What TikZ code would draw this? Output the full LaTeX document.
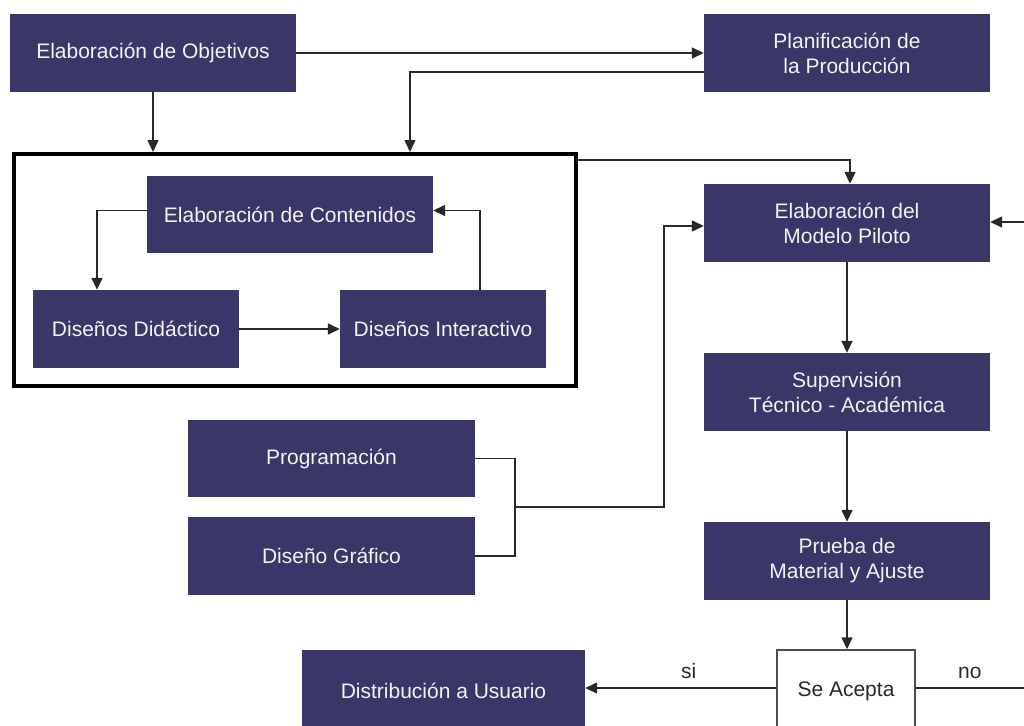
\documentclass[tikz,border=0pt]{standalone}
\usepackage{fontspec}
\setmainfont{Liberation Sans}
\usetikzlibrary{arrows.meta}
\definecolor{navy}{RGB}{59,54,104}
\definecolor{linegray}{RGB}{40,40,40}
\begin{document}
\begin{tikzpicture}[x=1pt,y=-1pt,
  box/.style={fill=navy,text=white!95!black,inner sep=0pt,align=center,
              font=\fontsize{21}{25}\selectfont},
  wide/.style={box,minimum width=286pt,minimum height=78pt},
  narrow/.style={box,minimum width=206pt,minimum height=78pt},
  conn/.style={line width=1.5pt,draw=linegray},
  arr/.style={conn,-{Triangle[length=12pt,width=11pt]}},
  lbl/.style={font=\fontsize{21}{25}\selectfont,text=linegray}
]
\clip (0,0) rectangle (1024,725);
\fill[white] (0,0) rectangle (1024,725);

% nodes
\node[wide] (obj) at (153,53) {Elaboración de Objetivos};
\node[wide] (plan) at (847,53) {Planificación de\\la Producción};
\node[draw=black,line width=4pt,minimum width=562pt,minimum height=232pt,inner sep=0pt] (frame) at (295,270) {};
\node[wide,minimum height=77pt] (cont) at (290,214.5) {Elaboración de Contenidos};
\node[narrow] (did) at (136,329) {Diseños Didáctico};
\node[narrow] (inter) at (443,329) {Diseños Interactivo};
\node[wide] (modelo) at (847,223) {Elaboración del\\Modelo Piloto};
\node[wide] (sup) at (847,392) {Supervisión\\Técnico - Académica};
\node[wide] (prueba) at (847,561) {Prueba de\\Material y Ajuste};
\node[wide,minimum width=287pt,minimum height=77pt] (prog) at (331.5,458.5) {Programación};
\node[wide,minimum width=287pt] (dg) at (331.5,556) {Diseño Gráfico};
\node[box,minimum width=283pt,minimum height=82pt] (dist) at (443.5,691) {Distribución a Usuario};
\node[draw=gray!60!black,line width=1.5pt,fill=white,minimum width=138pt,minimum height=82pt,
      inner sep=0pt,font=\fontsize{21}{25}\selectfont,text=linegray] (se) at (846,691) {Se Acepta};

\coordinate (br) at (515,507);
\coordinate (noend) at (1024,688);
\coordinate (loopin) at (1024,222);

% connectors
\draw[arr] (obj) -- (plan);
\draw[arr] ([yshift=-19pt]plan.west) -| (frame.north -| 410,0);
\draw[arr] (obj.south) -- (obj.south |- frame.north);
\draw[arr] ([yshift=-8pt]frame.north east) -| ([xshift=3pt]modelo.north);
\draw[arr] ([yshift=4pt]cont.west) -| ([xshift=-39pt]did.north);
\draw[arr] (did) -- (inter);
\draw[arr] ([xshift=37pt]inter.north) |- ([yshift=4pt]cont.east);
\draw[conn] (prog.east) -| (br) |- (dg.east);
\draw[arr] (br) -- (664,507) |- ([yshift=-3pt]modelo.west);
\draw[arr] (modelo) -- (sup);
\draw[arr] (sup) -- (prueba);
\draw[arr] (prueba.south) -- (prueba.south |- se.north);
\draw[arr] (se.west |- noend) -- (dist.east |- noend) node[lbl,midway,above=5pt,xshift=8pt] {si};
\draw[conn] (se.east |- noend) -- (noend) node[lbl,midway,above=5pt] {no};
\draw[arr] (loopin) -- (modelo.east |- loopin);
\end{tikzpicture}
\end{document}
